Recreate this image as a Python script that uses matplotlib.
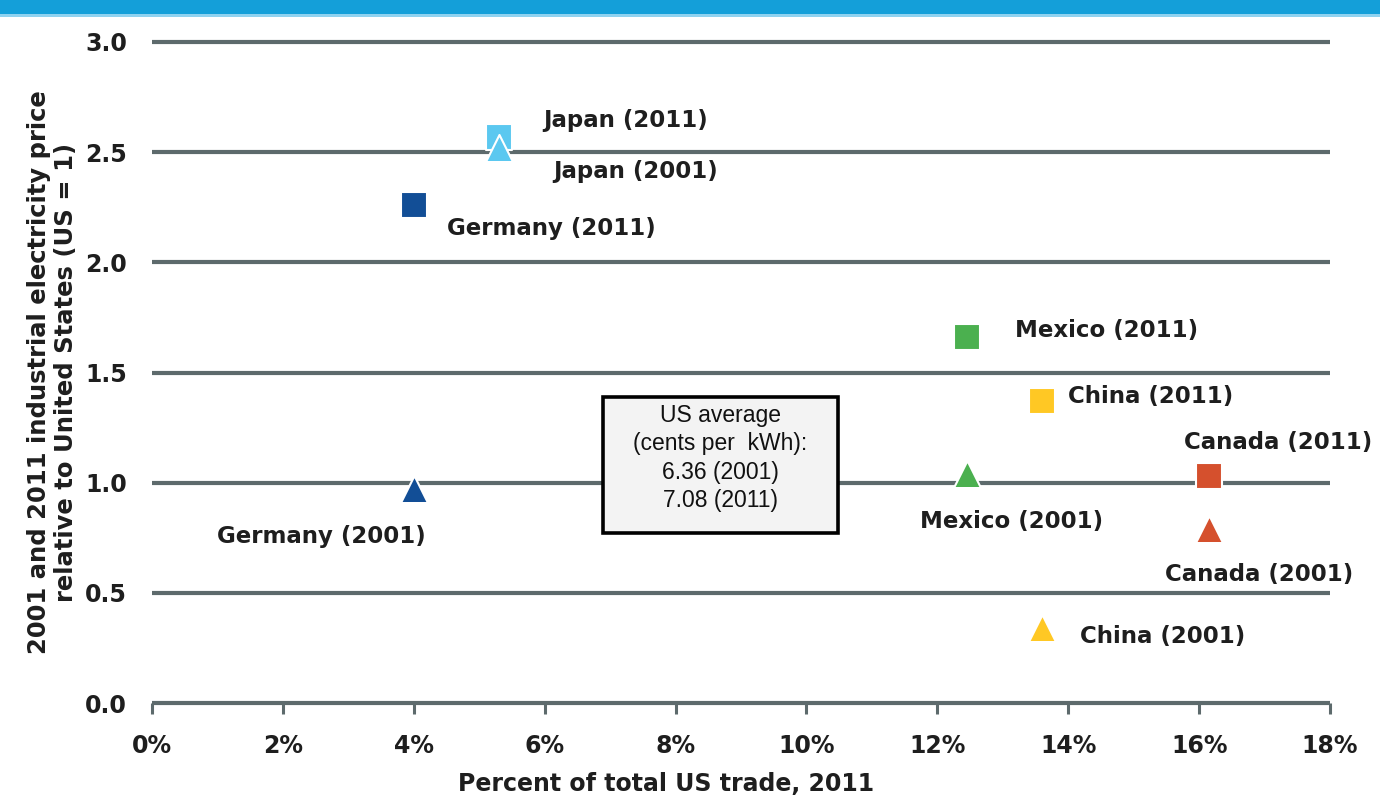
"""Industrial electricity price vs share of US trade, 2001 and 2011."""

import matplotlib
matplotlib.use("Agg")
import matplotlib.pyplot as plt
from matplotlib.patches import Rectangle
from matplotlib.ticker import FuncFormatter


# Data
countries = ["Japan", "Germany", "Mexico", "China", "Canada"]
trade_share_2011 = [5.3, 4.0, 12.45, 13.6, 16.15]       # % of total US trade
price_ratio_2011 = [2.57, 2.26, 1.66, 1.37, 1.03]      # relative to US = 1
price_ratio_2001 = [2.52, 0.97, 1.04, 0.34, 0.79]
colors = ["#5bc8f0", "#124e96", "#4bb04f", "#ffc824", "#d5502d"]

box_lines = ["US average", "(cents per  kWh):", "6.36 (2001)", "7.08 (2011)"]

x_ticks = list(range(0, 19, 2))
y_ticks = [0.0, 0.5, 1.0, 1.5, 2.0, 2.5, 3.0]

# label offsets (points) and alignment per country: (2011, 2001)
label_pos = {
    "Japan": (((32, 12), "left"), ((39, -17), "left")),
    "Germany": (((24, -17), "left"), ((9, -34), "right")),
    "Mexico": (((35, 5), "left"), ((32, -34), "center")),
    "China": (((19, 3), "left"), ((27, -6), "left")),
    "Canada": (((50, 24), "center"), ((36, -33), "center")),
}

GRID = "#5d6a6c"
TEXT = "#1e1e1e"
LABEL_SIZE = 16.5

fig = plt.figure(figsize=(13.8, 8.01), dpi=100)
ax = fig.add_axes([0.1101, 0.1223, 0.8537, 0.8253])

# top blue band
fig.patches.append(Rectangle((0, 1 - 14 / 801), 1, 14 / 801, transform=fig.transFigure,
                             facecolor="#149fd9", edgecolor="none", zorder=0))
fig.patches.append(Rectangle((0, 1 - 17 / 801), 1, 3 / 801, transform=fig.transFigure,
                             facecolor="#8fd2f0", edgecolor="none", zorder=0))

for y in y_ticks:
    ax.axhline(y, color=GRID, lw=3, zorder=1, solid_capstyle="butt", clip_on=False)

for i, name in enumerate(countries):
    ax.scatter(trade_share_2011[i], price_ratio_2011[i], marker="s", s=340,
               color=colors[i], edgecolors="white", linewidths=1.5, zorder=4)
    ax.scatter(trade_share_2011[i], price_ratio_2001[i], marker="^", s=380,
               color=colors[i], edgecolors="white", linewidths=1.5, zorder=5)

    (off11, ha11), (off01, ha01) = label_pos[name]
    ax.annotate(f"{name} (2011)", (trade_share_2011[i], price_ratio_2011[i]),
                xytext=off11, textcoords="offset points", ha=ha11, va="center",
                fontsize=LABEL_SIZE, fontweight="bold", color=TEXT, zorder=6)
    ax.annotate(f"{name} (2001)", (trade_share_2011[i], price_ratio_2001[i]),
                xytext=off01, textcoords="offset points", ha=ha01, va="center",
                fontsize=LABEL_SIZE, fontweight="bold", color=TEXT, zorder=6)

# US average box
ax.add_patch(Rectangle((0.3829, 0.2572), 0.1994, 0.2057, transform=ax.transAxes,
                       facecolor="#f3f3f3", edgecolor="black", lw=2.6, zorder=3))
for k, line in enumerate(box_lines):
    ax.text(0.4826, 0.4356 - k * 0.0431, line, transform=ax.transAxes,
            ha="center", va="center", fontsize=16.5,
            family=["Liberation Sans Narrow", "Liberation Sans", "DejaVu Sans"],
            color="#111111", zorder=4)

ax.set_xlim(0, 18)
ax.set_ylim(0, 3)
ax.set_xticks(x_ticks)
ax.set_yticks(y_ticks)
ax.xaxis.set_major_formatter(FuncFormatter(lambda v, p: f"{v:.0f}%"))
ax.yaxis.set_major_formatter(FuncFormatter(lambda v, p: f"{v:.1f}"))

for side in ["top", "right", "left", "bottom"]:
    ax.spines[side].set_visible(False)

ax.tick_params(axis="x", direction="out", length=8, width=2.2, color=GRID,
               pad=14, labelsize=17, labelcolor=TEXT)
ax.tick_params(axis="y", length=0, pad=18, labelsize=17, labelcolor=TEXT)
for lbl in ax.get_xticklabels() + ax.get_yticklabels():
    lbl.set_fontweight("semibold")

ax.set_xlabel("Percent of total US trade, 2011", fontsize=17, fontweight="bold", color=TEXT)
ax.xaxis.set_label_coords(0.436, -0.105)
ax.set_ylabel("2001 and 2011 industrial electricity price\nrelative to United States (US = 1)",
              fontsize=17.5, fontweight="bold", color=TEXT, linespacing=1.15)
ax.yaxis.set_label_coords(-0.063, 0.5)

fig.savefig("out.png", dpi=100)
plt.close(fig)
